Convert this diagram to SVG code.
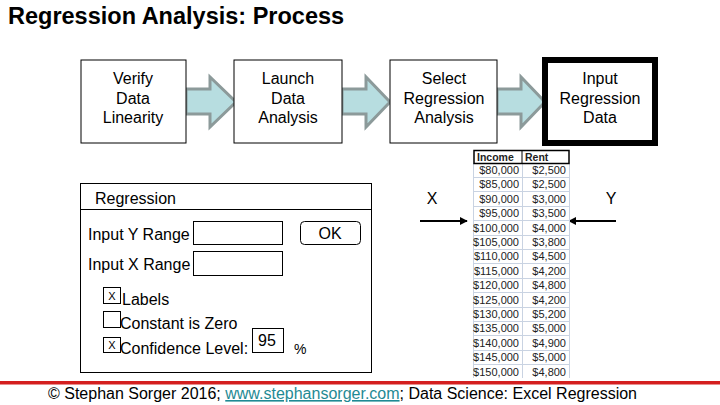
<svg xmlns="http://www.w3.org/2000/svg" width="720" height="405" viewBox="0 0 720 405">
<defs>
<style>
text{font-family:"Liberation Sans",Arial,sans-serif;fill:#000}
.bt{font-size:16px;text-anchor:middle}
.box{fill:#fff;stroke:#000;stroke-width:1}
.arr{fill:#b7dde0;stroke:#8c9a9a;stroke-width:3;stroke-linejoin:miter}
.dl{font-size:16px}
.ib{fill:#fff;stroke:#000;stroke-width:1}
.tn{font-size:11px;text-anchor:end;fill:#222}
.grid{stroke:#c9d3e2;stroke-width:1}
</style>
<marker id="ah" viewBox="0 0 10 10" refX="9" refY="5" markerWidth="4" markerHeight="4" orient="auto-start-reverse">
<path d="M0,0 L10,5 L0,10 z" fill="#000"/>
</marker>
</defs>
<rect width="720" height="405" fill="#fff"/>
<text x="8" y="24" style="font-size:23.5px;font-weight:bold">Regression Analysis: Process</text>

<g id="connectors">
<path class="arr" d="M186,89 H210 V77 L236,102 L210,127 V114 H186 Z"/>
<path class="arr" d="M342,89 H366 V77 L390,102 L366,127 V114 H342 Z"/>
<path class="arr" d="M497,89 H521 V77 L545,102 L521,127 V114 H497 Z"/>
<line x1="420" y1="221" x2="467" y2="221" stroke="#000" stroke-width="2" marker-end="url(#ah)"/>
<line x1="616" y1="221" x2="569" y2="221" stroke="#000" stroke-width="2" marker-end="url(#ah)"/>
</g>

<g id="verify">
<rect class="box" x="81" y="60" width="105" height="83"/>
<text class="bt" x="133" y="84">Verify</text>
<text class="bt" x="133" y="104">Data</text>
<text class="bt" x="133" y="123">Linearity</text>
</g>
<g id="launch">
<rect class="box" x="234" y="60" width="108" height="83"/>
<text class="bt" x="288" y="84">Launch</text>
<text class="bt" x="288" y="104">Data</text>
<text class="bt" x="288" y="123">Analysis</text>
</g>
<g id="select">
<rect class="box" x="390" y="60" width="107" height="83"/>
<text class="bt" x="444" y="84">Select</text>
<text class="bt" x="444" y="104">Regression</text>
<text class="bt" x="444" y="123">Analysis</text>
</g>
<g id="input">
<rect x="545" y="60" width="110" height="83" fill="#fff" stroke="#000" stroke-width="6"/>
<text class="bt" x="600" y="84">Input</text>
<text class="bt" x="600" y="104">Regression</text>
<text class="bt" x="600" y="123">Data</text>
</g>

<g id="dialog">
<rect class="box" x="80.5" y="183.5" width="291" height="189"/>
<line x1="80" y1="209.5" x2="372" y2="209.5" stroke="#000"/>
<text class="dl" x="95" y="204">Regression</text>
<text class="dl" x="88" y="240">Input Y Range</text>
<rect class="ib" x="193.5" y="221.5" width="89" height="23"/>
<rect class="ib" x="300.5" y="221.5" width="60" height="23" rx="4"/>
<text class="bt" x="330" y="239">OK</text>
<text class="dl" x="88" y="270">Input X Range</text>
<rect class="ib" x="193.5" y="251.5" width="89" height="24"/>
<rect class="ib" x="103.5" y="287.5" width="17" height="16"/>
<text x="112" y="300" style="font-size:11px;text-anchor:middle">X</text>
<text class="dl" x="122" y="305">Labels</text>
<rect class="ib" x="103.5" y="311.5" width="17" height="16"/>
<text class="dl" x="120" y="329">Constant is Zero</text>
<rect class="ib" x="103.5" y="337.5" width="17" height="15"/>
<text x="112" y="349" style="font-size:11px;text-anchor:middle">X</text>
<text class="dl" x="120" y="354">Confidence Level:</text>
<rect class="ib" x="252.5" y="328.5" width="31" height="24"/>
<text class="bt" x="267" y="346">95</text>
<text x="294" y="354" style="font-size:14px">%</text>
</g>

<g id="xlabel"><text x="432" y="204" style="font-size:16px;text-anchor:middle">X</text></g>
<g id="ylabel"><text x="611" y="204" style="font-size:16px;text-anchor:middle">Y</text></g>

<g id="table">
<rect x="473" y="163" width="97" height="216" fill="#fff"/>
<g class="grid">
<line x1="473.5" y1="163" x2="473.5" y2="378"/>
<line x1="522.5" y1="163" x2="522.5" y2="378"/>
<line x1="569.5" y1="163" x2="569.5" y2="378"/>
<line x1="473" y1="177.5" x2="570" y2="177.5"/>
<line x1="473" y1="191.5" x2="570" y2="191.5"/>
<line x1="473" y1="206.5" x2="570" y2="206.5"/>
<line x1="473" y1="220.5" x2="570" y2="220.5"/>
<line x1="473" y1="235.5" x2="570" y2="235.5"/>
<line x1="473" y1="249.5" x2="570" y2="249.5"/>
<line x1="473" y1="263.5" x2="570" y2="263.5"/>
<line x1="473" y1="278.5" x2="570" y2="278.5"/>
<line x1="473" y1="292.5" x2="570" y2="292.5"/>
<line x1="473" y1="307.5" x2="570" y2="307.5"/>
<line x1="473" y1="321.5" x2="570" y2="321.5"/>
<line x1="473" y1="335.5" x2="570" y2="335.5"/>
<line x1="473" y1="350.5" x2="570" y2="350.5"/>
<line x1="473" y1="364.5" x2="570" y2="364.5"/>
</g>
<rect x="474" y="150.5" width="95" height="13" fill="#fff" stroke="#000" stroke-width="1.5"/>
<line x1="522" y1="150" x2="522" y2="164" stroke="#000" stroke-width="1"/>
<text x="477" y="161" style="font-size:10.5px;font-weight:bold;fill:#222">Income</text>
<text x="525" y="161" style="font-size:10.5px;font-weight:bold;fill:#222">Rent</text>
<text class="tn" x="519" y="174">$80,000</text><text class="tn" x="566" y="174">$2,500</text>
<text class="tn" x="519" y="188">$85,000</text><text class="tn" x="566" y="188">$2,500</text>
<text class="tn" x="519" y="203">$90,000</text><text class="tn" x="566" y="203">$3,000</text>
<text class="tn" x="519" y="217">$95,000</text><text class="tn" x="566" y="217">$3,500</text>
<text class="tn" x="519" y="232">$100,000</text><text class="tn" x="566" y="232">$4,000</text>
<text class="tn" x="519" y="246">$105,000</text><text class="tn" x="566" y="246">$3,800</text>
<text class="tn" x="519" y="260">$110,000</text><text class="tn" x="566" y="260">$4,500</text>
<text class="tn" x="519" y="275">$115,000</text><text class="tn" x="566" y="275">$4,200</text>
<text class="tn" x="519" y="289">$120,000</text><text class="tn" x="566" y="289">$4,800</text>
<text class="tn" x="519" y="304">$125,000</text><text class="tn" x="566" y="304">$4,200</text>
<text class="tn" x="519" y="318">$130,000</text><text class="tn" x="566" y="318">$5,200</text>
<text class="tn" x="519" y="332">$135,000</text><text class="tn" x="566" y="332">$5,000</text>
<text class="tn" x="519" y="347">$140,000</text><text class="tn" x="566" y="347">$4,900</text>
<text class="tn" x="519" y="361">$145,000</text><text class="tn" x="566" y="361">$5,000</text>
<text class="tn" x="519" y="376">$150,000</text><text class="tn" x="566" y="376">$4,800</text>
</g>

<g id="footer">
<rect x="0" y="381" width="720" height="3.5" fill="#d41f1f"/>
<text x="48" y="399" style="font-size:16px">© Stephan Sorger 2016; <tspan fill="#1f8a94" text-decoration="underline">www.stephansorger.com</tspan>; Data Science: Excel Regression</text>
</g>
</svg>
